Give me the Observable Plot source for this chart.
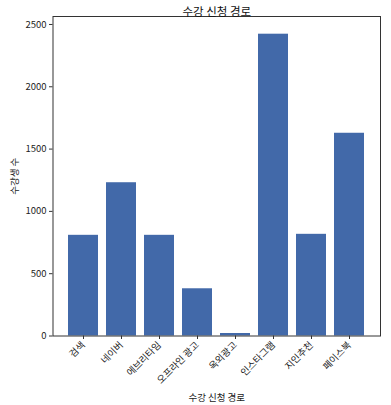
<!DOCTYPE html>
<html><head><meta charset="utf-8">
<script src="https://cdn.jsdelivr.net/npm/d3@7"></script>
<script src="https://cdn.jsdelivr.net/npm/@observablehq/plot@0.6"></script>
<style>
body{margin:0;background:#fff;}
svg{font-family:"Noto Sans CJK KR","Noto Sans",sans-serif;}
</style></head><body>
<div id="chart"></div>
<script>
const categories = ["검색","네이버","에브리타임","오프라인 광고","옥외광고","인스타그램","지인추천","페이스북"];
const counts = [808, 1230, 808, 379, 20, 2422, 816, 1627];
const yTicks = [0, 500, 1000, 1500, 2000, 2500];
const title = "수강 신청 경로";
const xLabel = "수강 신청 경로";
const yLabel = "수강생 수";

const data = categories.map((c, i) => ({cat: c, n: counts[i]}));

const chart = Plot.plot({
  width: 391, height: 405,
  marginLeft: 52.5, marginRight: 11, marginTop: 16, marginBottom: 69.5,
  style: {fontSize: "9.5px", fontFamily: '"Noto Sans CJK KR","Noto Sans",sans-serif', color: "#222"},
  x: {domain: categories, paddingInner: 0.2, paddingOuter: 0.39},
  y: {domain: [0, 2564]},
  marks: [
    Plot.barY(data, {x: "cat", y: "n", fill: "#4269a9"}),
    Plot.frame({stroke: "#333", strokeWidth: 1}),
    Plot.axisY({ticks: yTicks, tickFormat: d3.format("d"), tickSize: 3.5, tickPadding: 3, label: yLabel, labelAnchor: "center", labelArrow: "none", labelOffset: 42, stroke: "#333"}),
    Plot.axisX({tickRotate: -45, tickSize: 3.5, tickPadding: 4, label: xLabel, labelAnchor: "center", labelArrow: "none", labelOffset: 65, stroke: "#333"}),
    Plot.text([title], {frameAnchor: "top", dy: -9, fontSize: 11.5, fill: "#111"})
  ]
});
document.getElementById("chart").append(chart);
</script>
</body></html>
